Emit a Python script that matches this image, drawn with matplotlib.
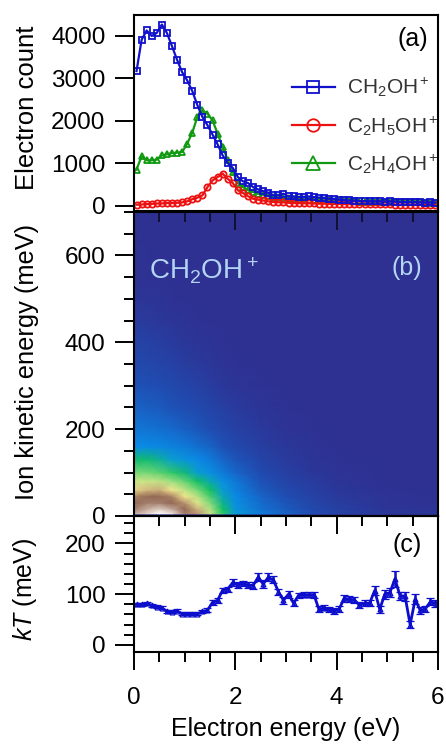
import numpy as np
import matplotlib
matplotlib.use('Agg')
import matplotlib.pyplot as plt
from matplotlib.colors import LinearSegmentedColormap
from matplotlib.ticker import MultipleLocator

plt.rcParams['font.family'] = ['Liberation Sans', 'DejaVu Sans']
plt.rcParams['mathtext.fontset'] = 'custom'
plt.rcParams['mathtext.rm'] = 'Liberation Sans'
plt.rcParams['mathtext.it'] = 'Liberation Sans:italic'
plt.rcParams['mathtext.default'] = 'regular'

# electron energy bins
energy = [0.05, 0.15, 0.25, 0.35, 0.45, 0.55, 0.65, 0.75, 0.85, 0.95,
          1.05, 1.15, 1.25, 1.35, 1.45, 1.55, 1.65, 1.75, 1.85, 1.95,
          2.05, 2.15, 2.25, 2.35, 2.45, 2.55, 2.65, 2.75, 2.85, 2.95,
          3.05, 3.15, 3.25, 3.35, 3.45, 3.55, 3.65, 3.75, 3.85, 3.95,
          4.05, 4.15, 4.25, 4.35, 4.45, 4.55, 4.65, 4.75, 4.85, 4.95,
          5.05, 5.15, 5.25, 5.35, 5.45, 5.55, 5.65, 5.75, 5.85, 5.95]

# panel a
ch2oh = [3175, 3910, 4130, 4000, 4075, 4270, 4070, 3760, 3440, 3150,
         2955, 2705, 2375, 2095, 1900, 1680, 1450, 1190, 1010, 895,
         680, 580, 540, 445, 390, 350, 315, 250, 250, 290,
         225, 225, 210, 210, 225, 210, 195, 190, 170, 165,
         150, 140, 130, 125, 120, 115, 110, 110, 110, 105,
         110, 105, 95, 90, 95, 90, 85, 80, 85, 80]
c2h5oh = [30, 35, 45, 50, 60, 60, 70, 70, 75, 85,
          110, 160, 195, 250, 445, 600, 680, 760, 640, 540,
          370, 305, 230, 170, 150, 130, 110, 95, 90, 85,
          75, 70, 70, 65, 65, 60, 55, 55, 50, 50,
          50, 45, 45, 45, 40, 40, 40, 40, 35, 35,
          35, 30, 30, 30, 25, 25, 25, 25, 25, 25]
c2h4oh = [855, 1170, 1075, 1075, 1090, 1190, 1215, 1245, 1255, 1270,
          1465, 1725, 2095, 2250, 2170, 2015, 1700, 1390, 1075, 800,
          540, 445, 370, 330, 290, 265, 240, 220, 200, 190,
          180, 170, 165, 160, 150, 145, 140, 135, 130, 125,
          120, 115, 110, 110, 105, 105, 100, 100, 100, 95,
          100, 95, 90, 90, 85, 85, 85, 80, 80, 80]

# panel b, counts on the colour scale 0-1
map_x = [0.0, 0.25, 0.5, 0.75, 1.0, 1.25, 1.5, 1.75, 2.0, 2.5, 3.0, 3.5, 4.0, 5.0, 6.0]
map_y = [5, 15, 30, 45, 60, 80, 100, 130, 160, 200, 250, 300, 350, 400, 450, 500, 550, 700]
map_z = [
    [.92, .95, 1.0, .97, .88, .80, .70, .58, .47, .36, .27, .20, .13, .05, .03],
    [.88, .92, .95, .92, .86, .78, .68, .56, .44, .32, .24, .16, .10, .03, .02],
    [.86, .88, .88, .86, .80, .72, .64, .53, .42, .30, .22, .14, .08, .02, .01],
    [.82, .85, .85, .82, .74, .68, .60, .50, .40, .27, .19, .12, .06, .02, 0],
    [.75, .77, .78, .74, .69, .63, .56, .47, .37, .24, .16, .10, .05, .01, 0],
    [.70, .70, .69, .66, .62, .56, .50, .42, .34, .21, .13, .08, .03, 0, 0],
    [.63, .63, .61, .58, .54, .48, .42, .35, .28, .17, .10, .05, .02, 0, 0],
    [.55, .55, .52, .48, .44, .40, .35, .28, .22, .13, .07, .03, .01, 0, 0],
    [.40, .40, .39, .37, .35, .31, .27, .21, .16, .09, .05, .02, 0, 0, 0],
    [.33, .33, .31, .29, .26, .23, .19, .15, .11, .06, .02, .01, 0, 0, 0],
    [.27, .25, .24, .21, .19, .16, .13, .10, .07, .03, .01, 0, 0, 0, 0],
    [.21, .20, .18, .16, .13, .11, .08, .05, .03, .01, 0, 0, 0, 0, 0],
    [.16, .15, .13, .11, .08, .06, .04, .02, .01, 0, 0, 0, 0, 0, 0],
    [.12, .11, .09, .07, .05, .03, .02, .01, 0, 0, 0, 0, 0, 0, 0],
    [.07, .06, .05, .03, .02, .01, 0, 0, 0, 0, 0, 0, 0, 0, 0],
    [.03, .03, .02, .01, 0, 0, 0, 0, 0, 0, 0, 0, 0, 0, 0],
    [.01, .01, 0, 0, 0, 0, 0, 0, 0, 0, 0, 0, 0, 0, 0],
    [0, 0, 0, 0, 0, 0, 0, 0, 0, 0, 0, 0, 0, 0, 0],
]
cmap_colors = [(0.0, '#2e3192'), (0.2, '#1f4fb4'), (0.4, '#0a8ae6'), (0.48, '#0a9ed0'),
               (0.56, '#12c060'), (0.66, '#a0e080'), (0.74, '#f2e88e'), (0.8, '#b89070'),
               (0.86, '#8f6450'), (0.94, '#d8c4b8'), (1.0, '#ffffff')]

# panel c
kt = [80, 80, 82, 78, 75, 73, 66, 65, 67, 61,
      61, 61, 61, 66, 68, 84, 88, 108, 110, 123,
      118, 121, 118, 117, 133, 120, 133, 128, 105, 88,
      100, 82, 98, 99, 99, 99, 70, 73, 70, 67,
      71, 92, 90, 89, 78, 82, 82, 107, 70, 100,
      103, 130, 97, 96, 40, 90, 68, 71, 85, 82]
kt_err = [3, 3, 3, 3, 3, 3, 3, 3, 3, 3,
          3, 3, 3, 3, 4, 5, 5, 5, 5, 6,
          5, 5, 5, 6, 8, 8, 8, 7, 6, 7,
          7, 6, 5, 5, 5, 6, 6, 5, 5, 6,
          6, 7, 6, 6, 6, 6, 6, 9, 7, 9,
          9, 15, 8, 9, 7, 10, 7, 6, 7, 7]

W, H = 446, 744
LEFT, RIGHT = 134, 438


def make_axes(top, bottom):
    return fig.add_axes([LEFT / W, 1 - bottom / H, (RIGHT - LEFT) / W, (bottom - top) / H])


fig = plt.figure(figsize=(W / 100, H / 100), dpi=100)
ax_a = make_axes(15, 211)
ax_b = make_axes(212, 516)
ax_c = make_axes(516, 652)

# panel a
ax_a.plot(energy, c2h4oh, color='#119911', marker='^', ms=4.8, mfc='none', mew=1.3, lw=1.6,
          label=r'$C_2H_4OH^+$', zorder=2)
ax_a.plot(energy, c2h5oh, color='#ee1111', marker='o', ms=4.5, mfc='none', mew=1.3, lw=1.6,
          label=r'$C_2H_5OH^+$', zorder=3)
ax_a.plot(energy, ch2oh, color='#1111cc', marker='s', ms=4.3, mfc='none', mew=1.3, lw=1.6,
          label=r'$CH_2OH^+$', zorder=4)
ax_a.set_xlim(0, 6)
ax_a.set_ylim(-118, 4494)
ax_a.set_yticks([0, 1000, 2000, 3000, 4000])
ax_a.set_xticks([])
handles, labels = ax_a.get_legend_handles_labels()
ax_a.legend(handles[::-1], labels[::-1], loc='upper left', bbox_to_anchor=(0.52, 0.69), frameon=False,
            fontsize=15, markerscale=2, handlelength=2.05, handletextpad=0.6, labelspacing=0.72,
            labelcolor='#333333', borderpad=0, borderaxespad=0)
ax_a.text(5.8, 3930, '(a)', fontsize=18, ha='right', va='center')
ax_a.set_ylabel('Electron count', fontsize=18.5)

# panel b
cmap = LinearSegmentedColormap.from_list('ion', cmap_colors)
ax_b.pcolormesh(map_x, map_y, np.array(map_z), cmap=cmap, vmin=0, vmax=1, shading='gouraud')
ax_b.set_facecolor('#2e3192')
ax_b.set_xlim(0, 6)
ax_b.set_ylim(0, 700)
ax_b.yaxis.set_major_locator(MultipleLocator(200))
ax_b.yaxis.set_minor_locator(MultipleLocator(50))
ax_b.xaxis.set_major_locator(MultipleLocator(2))
ax_b.xaxis.set_minor_locator(MultipleLocator(0.5))
ax_b.tick_params(axis='x', which='both', top=True, bottom=False, labelbottom=False, direction='in', color='#111133')
ax_b.text(0.3, 565, r'$CH_2OH^+$', color='#b4d4f4', fontsize=20, va='center')
ax_b.text(5.68, 570, '(b)', color='#b4d4f4', fontsize=18, ha='right', va='center')
ax_b.set_ylabel('Ion kinetic energy (meV)', fontsize=18.3)

# panel c
ax_c.errorbar(energy, kt, yerr=kt_err, color='#0d0dcc', marker='^', ms=3.5, mfc='none', mew=0.9,
              lw=2, elinewidth=1.8, capsize=3.2, capthick=1.8)
ax_c.set_xlim(0, 6)
ax_c.set_ylim(-14, 254)
ax_c.yaxis.set_major_locator(MultipleLocator(100))
ax_c.set_yticks(np.arange(0, 241, 20), minor=True)
ax_c.xaxis.set_major_locator(MultipleLocator(2))
ax_c.xaxis.set_minor_locator(MultipleLocator(0.5))
ax_c.tick_params(axis='x', which='both', top=True, direction='out')
ax_c.tick_params(axis='x', which='major', pad=12)
ax_c.text(5.68, 197, '(c)', fontsize=18, ha='right', va='center')
ax_c.set_ylabel(r'$\mathit{kT}$ (meV)', fontsize=18)
ax_c.set_xlabel('Electron energy (eV)', fontsize=18, labelpad=6)

for ax, label_y in ((ax_a, 0.526), (ax_b, 0.507), (ax_c, 0.463)):
    for s in ax.spines.values():
        s.set_linewidth(1.5)
        s.set_zorder(10)
    ax.tick_params(axis='y', which='major', length=13.5, width=1.4, labelsize=17.5, pad=7)
    ax.tick_params(axis='y', which='minor', length=7, width=1.4)
    ax.tick_params(axis='x', which='major', length=13, width=1.4, labelsize=17.5)
    ax.tick_params(axis='x', which='minor', length=7, width=1.4)
    ax.yaxis.set_label_coords((39 - LEFT) / (RIGHT - LEFT), label_y)

# ticks of panel c's top edge point down into the plot
ax_c.xaxis.set_tick_params(which='both', top=False)
ax_c2 = ax_c.secondary_xaxis('top')
ax_c2.xaxis.set_major_locator(MultipleLocator(2))
ax_c2.xaxis.set_minor_locator(MultipleLocator(0.5))
ax_c2.tick_params(axis='x', which='major', direction='in', length=13, width=1.4, labeltop=False)
ax_c2.tick_params(axis='x', which='minor', direction='in', length=7, width=1.4)

fig.savefig('out.png', dpi=100)
